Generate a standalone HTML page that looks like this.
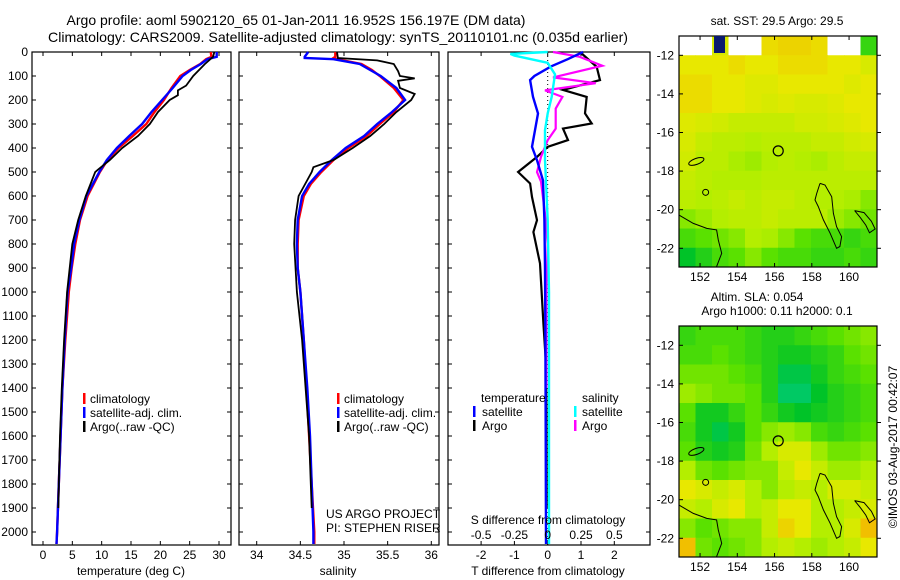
<!DOCTYPE html>
<html><head><meta charset="utf-8">
<style>
html,body{margin:0;padding:0;background:#fff;}
svg{display:block;font-family:"Liberation Sans",sans-serif;}
</style></head>
<body>
<svg id="fig" width="900" height="580" viewBox="0 0 900 580" xmlns="http://www.w3.org/2000/svg">
<text x="296" y="25" font-size="14" text-anchor="middle">Argo profile: aoml 5902120_65 01-Jan-2011 16.952S 156.197E (DM data)</text>
<text x="338" y="42" font-size="14" text-anchor="middle" textLength="580" lengthAdjust="spacingAndGlyphs">Climatology: CARS2009. Satellite-adjusted climatology: synTS_20110101.nc (0.035d earlier)</text>
<text x="777" y="25" font-size="12" text-anchor="middle">sat. SST: 29.5 Argo: 29.5</text>
<text x="757" y="301" font-size="12" text-anchor="middle">Altim. SLA: 0.054</text>
<text x="777" y="315" font-size="12" text-anchor="middle">Argo h1000: 0.11 h2000: 0.1</text>
<text transform="translate(897,447) rotate(-90)" font-size="12" text-anchor="middle">©IMOS 03-Aug-2017 00:42:07</text>
<g id="g"></g>
</svg>
<script>
// ---- profile data ----
const depthT = [0,20,30,50,75,100,150,200,250,300,350,400,450,500,600,700,800,900,1000,1200,1400,1600,1800,2000,2050];
const tClim = [28.6,28.7,27.8,26.8,25.0,23.4,21.9,20.6,19.0,17.6,15.3,12.9,11.0,9.7,7.6,6.3,5.5,4.9,4.4,3.8,3.3,3.0,2.7,2.4,2.3];
const tSat = [29.6,29.6,28.0,26.9,25.2,23.8,22.1,20.3,18.5,16.9,14.7,12.6,10.9,9.6,7.4,6.2,5.3,4.8,4.2,3.7,3.3,3.0,2.7,2.4,2.3];
const depthArgo = [0,20,50,100,140,160,180,200,250,300,350,400,450,490,500,600,700,800,1000,1200,1400,1600,1800,1900];
const tArgo = [29.2,29.0,27.6,25.6,24.4,23.0,23.0,21.6,19.6,18.2,16.2,13.5,11.4,9.4,8.9,7.3,6.0,5.0,4.1,3.6,3.2,2.9,2.7,2.6];
const depthS = [0,20,25,30,50,75,100,150,200,250,300,350,400,450,500,550,600,700,800,900,1000,1200,1400,1600,1800,2000,2050];
const sClim = [34.9,34.9,34.88,34.92,35.2,35.32,35.41,35.57,35.68,35.57,35.41,35.26,35.05,34.88,34.74,34.62,34.54,34.48,34.47,34.47,34.5,34.54,34.57,34.6,34.63,34.66,34.66];
const sSat = [34.59,34.55,34.55,34.88,35.18,35.3,35.42,35.6,35.7,35.55,35.38,35.23,35.02,34.86,34.72,34.6,34.52,34.47,34.46,34.47,34.5,34.54,34.58,34.61,34.63,34.65,34.65];
const depthArgoS = [0,25,35,50,80,100,110,120,150,175,200,250,300,350,400,450,480,500,600,700,800,1000,1200,1400,1600,1800,1900];
const sArgo = [34.92,34.93,35.38,35.57,35.62,35.64,35.81,35.62,35.64,35.81,35.77,35.6,35.46,35.3,35.1,34.88,34.65,34.63,34.48,34.44,34.43,34.46,34.52,34.56,34.6,34.62,34.63];
const depthTSatDiff = [0,30,60,100,117,187,256,326,395,451,535,700,900,1200,1600,2050];
const tSatDiff = [1.06,0.6,0.1,-0.4,-0.53,-0.44,-0.29,-0.38,-0.47,-0.32,-0.14,-0.1,-0.08,-0.07,-0.06,-0.05];
const depthTArgoDiff = [0,62,117,158,187,256,298,319,367,395,437,500,548,604,701,750,881,1131,1300,1500,1900];
const tArgoDiff = [0.97,1.47,1.57,0.46,1.17,1.12,1.32,0.46,0.61,0.0,-0.32,-0.89,-0.53,-0.47,-0.32,-0.43,-0.23,-0.13,-0.05,-0.04,-0.03];
const depthSSatDiff = [0,8,15,45,93,187,256,326,450,700,1000,2050];
const sSatDiff = [0,-0.28,-0.25,0,0.055,0.03,0,-0.02,-0.02,0,0.01,0.01];
const depthSArgoDiff = [0,20,57,106,130,160,187,236,319,367,437,500,540,674,800,1000,1400];
const sArgoDiff = [0.04,0.24,0.41,0.04,0.36,-0.02,0.11,0.06,0.06,0,-0.05,-0.08,-0.05,-0.02,0,-0.01,-0.01];
const depthTicks = [0,100,200,300,400,500,600,700,800,900,1000,1100,1200,1300,1400,1500,1600,1700,1800,1900,2000];
const tempTicks = [0,5,10,15,20,25,30];
const salTicks = [34,34.5,35,35.5,36];
const tDiffTicks = [-2,-1,0,1,2];
const sDiffTicks = [-0.5,-0.25,0,0.25,0.5];
// ---- map data (12 x 12 grids, 0..1 colour index, -1 = missing) ----
const sstGrid = [
[-1,-1,0.8,-1,-1,0.88,0.9,0.9,0.88,-1,-1,0.4],
[0.85,0.85,0.85,0.88,0.85,0.85,0.88,0.88,0.88,0.85,0.85,0.8],
[0.88,0.88,0.85,0.85,0.82,0.82,0.85,0.85,0.85,0.85,0.82,0.85],
[0.88,0.88,0.85,0.85,0.82,0.8,0.82,0.8,0.8,0.82,0.85,0.85],
[0.82,0.8,0.78,0.75,0.75,0.75,0.75,0.78,0.78,0.8,0.82,0.85],
[0.8,0.75,0.72,0.72,0.7,0.72,0.72,0.72,0.75,0.75,0.78,0.8],
[0.78,0.72,0.72,0.68,0.65,0.7,0.72,0.7,0.68,0.72,0.75,0.75],
[0.75,0.72,0.7,0.7,0.7,0.72,0.72,0.72,0.72,0.72,0.72,0.72],
[0.72,0.7,0.72,0.75,0.72,0.75,0.75,0.72,0.7,0.7,0.68,0.6],
[0.6,0.65,0.7,0.72,0.72,0.75,0.72,0.72,0.72,0.65,0.6,0.55],
[0.45,0.5,0.55,0.6,0.7,0.68,0.6,0.5,0.45,0.45,0.4,0.45],
[0.25,0.35,0.45,0.5,0.6,0.5,0.45,0.45,0.4,0.4,0.45,0.4]];
const slaGrid = [
[0.4,0.45,0.45,0.45,0.4,0.35,0.35,0.4,0.45,0.5,0.55,0.6],
[0.45,0.45,0.5,0.45,0.4,0.35,0.3,0.3,0.35,0.4,0.5,0.55],
[0.55,0.55,0.55,0.5,0.45,0.35,0.2,0.2,0.3,0.4,0.45,0.5],
[0.65,0.6,0.55,0.55,0.5,0.35,0.15,0.15,0.25,0.35,0.4,0.45],
[0.5,0.3,0.3,0.4,0.5,0.4,0.3,0.25,0.3,0.35,0.4,0.45],
[0.45,0.3,0.2,0.3,0.5,0.6,0.65,0.6,0.45,0.4,0.45,0.5],
[0.5,0.35,0.3,0.35,0.55,0.7,0.8,0.8,0.65,0.55,0.55,0.6],
[0.7,0.55,0.5,0.55,0.6,0.6,0.75,0.85,0.75,0.65,0.65,0.7],
[0.85,0.8,0.75,0.8,0.7,0.6,0.7,0.75,0.7,0.8,0.8,0.75],
[0.75,0.7,0.8,0.85,0.7,0.75,0.85,0.85,0.7,0.7,0.75,0.8],
[0.6,0.5,0.55,0.6,0.6,0.75,0.9,0.85,0.7,0.7,0.8,0.95],
[0.95,0.55,0.5,0.55,0.6,0.7,0.75,0.7,0.65,0.7,0.75,0.85]];
const lonTicks = [152,154,156,158,160];
const latTicks = [-12,-14,-16,-18,-20,-22];
const newCalLon = [158.44,158.71,159.07,159.16,159.33,159.6,159.51,159.33,158.98,158.62,158.35,158.17,158.26,158.44];
const newCalLat = [-18.64,-18.72,-19.33,-20.19,-20.88,-21.4,-21.91,-22,-21.22,-20.53,-19.84,-19.5,-19.16,-18.64];
const ausLon = [150.87,151.64,152.36,152.89,152.98,153.16,152.89];
const ausLat = [-20.28,-20.71,-20.97,-21.05,-21.57,-22.26,-22.95];
const vanLon = [160.3,160.8,161.2,161.4,161.1,160.9,160.6,160.3];
const vanLat = [-20.05,-20.15,-20.6,-21.0,-21.2,-20.8,-20.4,-20.05];
const argoLon = 156.197, argoLat = -16.952;

const NS='http://www.w3.org/2000/svg';
const G=document.getElementById('g');
function el(tag,attrs,parent){const e=document.createElementNS(NS,tag);for(const k in attrs)e.setAttribute(k,attrs[k]);(parent||G).appendChild(e);return e;}
function lin(d0,d1,r0,r1){return v=>r0+(v-d0)*(r1-r0)/(d1-d0);}
const yD = lin(0,2000,52,532);
const PB=545;

function panel(name,x0,x1,xs,ticks,labFmt,showLabels){
  const r=el('rect',{x:x0,y:52,width:x1-x0,height:PB-52,fill:'none',stroke:'#000','stroke-width':1.2});
  
  
  ticks.forEach(t=>{
    const x=xs(t);
    const a=el('line',{x1:x,x2:x,y1:52,y2:56,stroke:'#000'});
     
    const b=el('line',{x1:x,x2:x,y1:PB,y2:PB-4,stroke:'#000'});
     
  });
  depthTicks.forEach(d=>{
    const y=yD(d);
    const a=el('line',{x1:x0,x2:x0+4,y1:y,y2:y,stroke:'#000'});
     
    const b=el('line',{x1:x1,x2:x1-4,y1:y,y2:y,stroke:'#000'});
     
  });
  if(showLabels){
    ticks.forEach(t=>{
      const tx=el('text',{x:xs(t),y:559,'font-size':12,'text-anchor':'middle'});
      tx.textContent=labFmt(t);
       
    });
  }
}
function line(xs,depths,vals,color,name,w){
  const pts=vals.map((v,i)=>xs(v).toFixed(1)+','+yD(depths[i]).toFixed(1)).join(' ');
  const p=el('polyline',{points:pts,fill:'none',stroke:color,'stroke-width':w||2,'stroke-linejoin':'miter'});
   
}
function txt(x,y,s,name,extra){const t=el('text',Object.assign({x:x,y:y,'font-size':12},extra||{}));t.textContent=s;return t;}
function legBar(x,y,c,name){const r=el('rect',{x:x,y:y-10,width:2.5,height:11,fill:c});}

depthTicks.forEach(d=>{txt(28,yD(d)+4,String(d),'depth-tick-label',{'text-anchor':'end'});});

const xT=lin(0,30,43,219);
panel('temperature-panel',32,231,xT,tempTicks,String,true);
line(xT,depthT,tClim,'#ff0000','temperature-climatology-line',2.4);
line(xT,depthT,tSat,'#0000ff','temperature-satellite-line',2.4);
line(xT,depthArgo,tArgo,'#000000','temperature-argo-line',1.8);
txt(131,575,'temperature (deg C)','temperature-x-axis-title',{'text-anchor':'middle'});
legBar(83,403,'#ff0000','legend-climatology-swatch');txt(90,403,'climatology','legend-climatology');
legBar(83,417,'#0000ff','legend-satellite-swatch');txt(90,417,'satellite-adj. clim.','legend-satellite');
legBar(83,431,'#000','legend-argo-swatch');txt(90,431,'Argo(..raw -QC)','legend-argo');

const xS=lin(34,36,256.7,431.3);
panel('salinity-panel',239,439,xS,salTicks,String,true);
line(xS,depthS,sClim,'#ff0000','salinity-climatology-line',2.4);
line(xS,depthS,sSat,'#0000ff','salinity-satellite-line',2.4);
line(xS,depthArgoS,sArgo,'#000000','salinity-argo-line',1.8);
txt(338,575,'salinity','salinity-x-axis-title',{'text-anchor':'middle'});
legBar(337,403,'#ff0000','sal-legend-climatology-swatch');txt(344,403,'climatology','sal-legend-climatology');
legBar(337,417,'#0000ff','sal-legend-satellite-swatch');txt(344,417,'satellite-adj. clim.','sal-legend-satellite');
legBar(337,431,'#000','sal-legend-argo-swatch');txt(344,431,'Argo(..raw -QC)','sal-legend-argo');
txt(326,518,'US ARGO PROJECT','project-credit');
txt(326,532,'PI: STEPHEN RISER','pi-credit');

const xTd=lin(0,2,547.7,614.3);
const xSd=lin(0,0.5,547.7,614.3);
panel('difference-panel',448,650,xTd,tDiffTicks,String,true);
const z=el('line',{x1:547.7,x2:547.7,y1:52,y2:PB,stroke:'#000','stroke-dasharray':'1,3'});

line(xTd,depthTArgoDiff,tArgoDiff,'#000000','t-diff-argo-line',2.2);
line(xSd,depthSArgoDiff,sArgoDiff,'#ff00ff','s-diff-argo-line',2.2);
line(xTd,depthTSatDiff,tSatDiff,'#0000ff','t-diff-satellite-line',2.4);
line(xSd,depthSSatDiff,sSatDiff,'#00ffff','s-diff-satellite-line',2.4);
sDiffTicks.forEach(t=>txt(xSd(t),539,String(t),'s-diff-tick-label',{'text-anchor':'middle'}));
txt(548,524,'S difference from climatology','s-diff-axis-title',{'text-anchor':'middle'});
txt(548,575,'T difference from climatology','t-diff-axis-title',{'text-anchor':'middle'});
txt(481,402,'temperature','diff-legend-temperature-head');
legBar(473,416,'#0000ff','diff-legend-t-sat-swatch');txt(482,416,'satellite','diff-legend-t-satellite');
legBar(473,430,'#000','diff-legend-t-argo-swatch');txt(482,430,'Argo','diff-legend-t-argo');
txt(582,402,'salinity','diff-legend-salinity-head');
legBar(574,416,'#00ffff','diff-legend-s-sat-swatch');txt(582,416,'satellite','diff-legend-s-satellite');
legBar(574,430,'#ff00ff','diff-legend-s-argo-swatch');txt(582,430,'Argo','diff-legend-s-argo');

function cmap(v){
  const stops=[[0,[0,210,190]],[0.25,[0,195,40]],[0.5,[90,225,0]],[0.7,[180,238,0]],[0.85,[232,232,0]],[1,[245,170,0]]];
  for(let i=1;i<stops.length;i++){if(v<=stops[i][0]){const a=stops[i-1],b=stops[i];const f=(v-a[0])/(b[0]-a[0]);return 'rgb('+a[1].map((c,k)=>Math.round(c+(b[1][k]-c)*f)).join(',')+')';}}
  return 'rgb(245,170,0)';
}
const LON0=150.87,LON1=161.5,LAT0=-11.0,LAT1=-22.97;
function map(name,top,grid){
  const xL=lin(LON0,LON1,679,877), yL=lin(LAT0,LAT1,top,top+231);
  const rows=grid.length, cols=grid[0].length;
  const cw=(LON1-LON0)/cols, ch=(LAT0-LAT1)/rows;
  grid.forEach((row,r)=>row.forEach((v,c)=>{
    const x=xL(LON0+c*cw), y=yL(LAT0-r*ch);
    const rc=el('rect',{x:x,y:y,width:xL(LON0+(c+1)*cw)-x+0.5,height:yL(LAT0-(r+1)*ch)-y+0.5,fill:v<0?'#fff':cmap(v)});
     
  }));
  const pl=(lo,la,n)=>{const p=el('polyline',{points:lo.map((v,i)=>xL(v).toFixed(1)+','+yL(la[i]).toFixed(1)).join(' '),fill:'none',stroke:'#000','stroke-width':1});};
  pl(newCalLon,newCalLat,name+'-new-caledonia-coast');
  pl(ausLon,ausLat,name+'-australia-coast');
  pl(vanLon,vanLat,name+'-island-coast');
  const cc=el('circle',{cx:xL(argoLon),cy:yL(argoLat),r:5,fill:'none',stroke:'#000','stroke-width':1.2});
  
  const isl=el('circle',{cx:xL(152.3),cy:yL(-19.1),r:3,fill:'none',stroke:'#000'});
  
  const isl2=el('ellipse',{cx:xL(151.8),cy:yL(-17.5),rx:8,ry:3,fill:'none',stroke:'#000',transform:'rotate(-20 '+xL(151.8)+' '+yL(-17.5)+')'});
  
  const fr=el('rect',{x:679,y:top,width:198,height:231,fill:'none',stroke:'#000','stroke-width':1.2});
  
  lonTicks.forEach(l=>{
    const x=xL(l);
    const a=el('line',{x1:x,x2:x,y1:top,y2:top+4,stroke:'#000'});
    const b=el('line',{x1:x,x2:x,y1:top+231,y2:top+227,stroke:'#000'});
    txt(x,top+245,String(l),name+'-lon-label',{'text-anchor':'middle'});
  });
  latTicks.forEach(l=>{
    const y=yL(l);
    const a=el('line',{x1:679,x2:683,y1:y,y2:y,stroke:'#000'});
    const b=el('line',{x1:877,x2:881,y1:y,y2:y,stroke:'#000'});
    txt(674,y+4,String(l),name+'-lat-label',{'text-anchor':'end'});
  });
  return {xL,yL};
}
const m1=map('sst-map',36,sstGrid);
const nav=el('rect',{x:m1.xL(152.75),y:36,width:11,height:17,fill:'#0a1a6e'});

map('sla-map',326,slaGrid);
</script>
</body></html>
